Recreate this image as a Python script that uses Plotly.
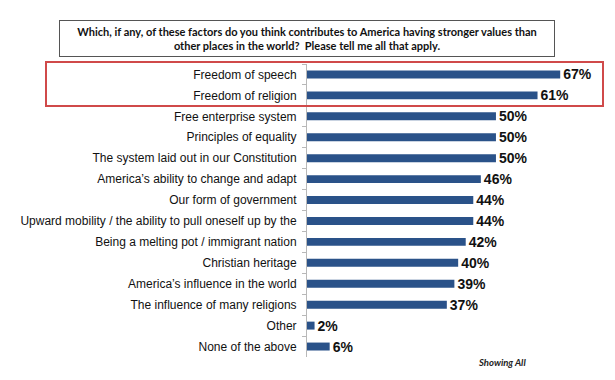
import plotly.graph_objects as go

categories = [
    "Freedom of speech",
    "Freedom of religion",
    "Free enterprise system",
    "Principles of equality",
    "The system laid out in our Constitution",
    "America\u2019s ability to change and adapt",
    "Our form of government",
    "Upward mobility / the ability to pull oneself up by the",
    "Being a melting pot / immigrant nation",
    "Christian heritage",
    "America\u2019s influence in the world",
    "The influence of many religions",
    "Other",
    "None of the above",
]
values = [67, 61, 50, 50, 50, 46, 44, 44, 42, 40, 39, 37, 2, 6]
value_labels = [f"{v}%" for v in values]

title_text = ("Which, if any, of these factors do you think contributes to America having stronger values than"
              "<br>other places in the world?  Please tell me all that apply.")
note_text = "Showing All"

# page has an 8px body margin; the figure is placed at (8, 8)
OFF = 8
W, H = 615 - OFF, 380 - OFF
L, R, T, B = 307 - OFF, 0, 64 - OFF, 22.5
pw, ph = W - L - R, H - T - B

def px(x):
    return (x - OFF - L) / pw

def py(y):
    return (H - B - (y - OFF)) / ph

fig = go.Figure(go.Bar(
    x=values, y=categories, orientation="h",
    marker=dict(color="#2a5289", line=dict(width=0)),
    width=0.38,
    text=value_labels, textposition="outside", cliponaxis=False,
    constraintext="none",
    textfont=dict(family="Liberation Sans, Arial", size=14, color="#111"),
    texttemplate="<b>%{text}</b>",
))

fig.update_layout(
    width=W, height=H,
    margin=dict(l=L, r=R, t=T, b=B),
    paper_bgcolor="white", plot_bgcolor="white",
    showlegend=False,
    xaxis=dict(range=[0, 81.5], visible=False, fixedrange=True),
    yaxis=dict(
        autorange="reversed", showline=True, linecolor="#b8b8b8", linewidth=1,
        ticks="outside", tickson="boundaries", ticklen=4, tickcolor="#b8b8b8",
        ticklabelstandoff=7,
        tickfont=dict(family="Liberation Sans, Arial", size=12, color="#111"),
        showgrid=False, zeroline=False,
    ),
)

fig.add_annotation(
    xref="paper", yref="paper", x=px(307), y=py(38.5),
    xanchor="center", yanchor="middle",
    text="<b>" + title_text + "</b>", showarrow=False,
    font=dict(family="Lato, Open Sans", size=11, color="#111"),
    bordercolor="#555", borderwidth=1, borderpad=3, bgcolor="white",
    width=488, height=29, align="center",
)

fig.add_shape(
    type="rect", xref="paper", yref="paper",
    x0=px(46), x1=px(603), y0=py(106), y1=py(62),
    line=dict(color="#d04a4a", width=2), fillcolor="rgba(0,0,0,0)",
)

fig.add_annotation(
    xref="paper", yref="paper", x=px(502), y=py(363),
    xanchor="center", yanchor="middle",
    text="<b><i>" + note_text + "</i></b>", showarrow=False,
    font=dict(family="Lato, Open Sans", size=9.5, color="#222"),
)

fig.write_html("out.html")
